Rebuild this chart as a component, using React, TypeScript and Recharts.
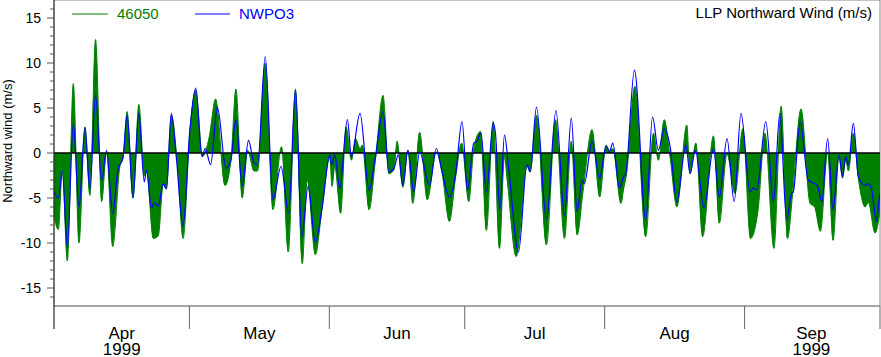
import { ComposedChart, Area, Line, XAxis, YAxis, ReferenceLine, ReferenceArea } from "recharts"

// days since 1 Apr 1999, values in m/s
const buoyDays = [
  0, 0.96, 1.85, 2.95, 4.28, 5.53, 6.86, 7.96, 9.2, 10.55, 11.65, 13.0, 14.6, 15.3, 16.2, 17.5, 18.8, 20.0, 20.5, 22.0,
  23.1, 24.2, 24.9, 26.0, 27.3, 28.6, 30.1,
  31.4, 32.9, 34.4, 35.8, 37.9, 39.2, 40.3, 41.7, 42.9, 44.3, 45.1, 46.8, 48.5, 50.4, 51.9, 53.5, 55.0, 56.1, 57.9, 59.4,
  61.1, 61.6, 62.2, 63.5, 64.7, 65.9, 66.8, 67.8, 68.3, 69.8, 71.2, 72.9, 74.2, 75.3, 76.0, 77.3, 78.4, 79.5, 81.0, 82.7,
  84.7, 86.0, 87.6, 89.0, 90.3, 91.9,
  93.0, 94.5, 95.8, 97.3, 98.7, 99.8, 100.4, 102.4, 104.8, 105.5, 106.9, 109.1, 111.1, 113.1, 114.6, 115.9, 117.2, 119.2,
  120.9, 122.3, 123.1, 123.8, 125.6, 126.2, 126.8, 128.7, 131.1, 132.8, 133.9, 135.2, 136.5, 138.0, 140.2, 140.9, 142.2,
  143.7, 146.1, 147.4, 149.1, 150.9, 152.6, 154.3, 156.0, 157.5, 159.5, 161.1, 162.5, 163.6, 165.5, 167.5, 168.5, 169.8,
  171.4, 172.6, 173.9, 174.7, 175.4, 176.0, 177.1, 178.2, 179.7, 180.4, 181.9, 183,
]
const buoyWind = [
  -7, -8.5, -1.9, -12, 7.7, -10, 2.9, -4.7, 12.6, -5.4, 0.1, -10.4, -1.5, -0.5, 4.6, -5, 5.4, -2.5, -2, -9.5,
  -9.2, -3.5, -4, 4.2, -1, -9.5, 2.5,
  7, -0.4, 1.8, 6, -3.6, -0.8, 7.1, -5, 0.3, -2, -2, 10, -6.3, 0.7, -11, 7, -12.3, -3, -11.3, -6.1,
  -0.5, -3.7, -1.5, -6.7, 2.9, -0.8, 1.6, 0.5, 0.9, -6.3, -0.8, 6.4, -2.3, -1.9, 1.3, -3.8, 0.3, -5.6, 2.3, -5.2,
  0.1, -2.3, -7.6, -2.6, 1.1, -5.4,
  0.5, 2.4, -8.6, 3.5, -10.6, -0.4, -3, -11.5, -1.5, -2.1, 4.2, -10.2, 3.7, -9.5, 1.3, -9.1, -4.3, 2.6,
  -4.9, 0.9, 0.2, 0.5, -5.6, -4, -2.5, 7.4, -9.3, 2.2, -0.8, 3.7, -0.5, -6, 3.1, -2.3, 1.1,
  -9.3, 1.9, -7.8, -0.1, -4.5, 2.7, -9.5, -6.3, 2.2, -10.6, 5.2, -9.5, -4.8, 4.9, -5.6, -6, -8.7,
  0.1, -9.7, -0.4, -2.8, -0.8, -2, 2.2, -2.8, -6, -5.5, -8.9, -6.5,
]

const stationDays = [
  0, 0.96, 1.85, 2.95, 4.28, 5.53, 6.86, 7.96, 9.2, 10.55, 11.65, 13.0, 14.2, 15.3, 16.2, 17.5, 18.8, 20.0, 20.5, 21.6,
  22.3, 23.1, 24.2, 24.9, 26.0, 27.1, 28.6, 30.1,
  31.4, 32.8, 33.5, 34.7, 36.2, 38.1, 39.2, 40.3, 41.7, 43.1, 44.3, 45.1, 46.8, 48.5, 50.3, 52.0, 53.5, 54.9, 56.3, 57.9,
  59.4, 61.1, 61.5, 62.2, 63.3, 65.0, 65.9, 67.8, 69.8, 71.1, 72.9, 74.2, 75.3, 76.3, 77.3, 78.4, 79.7, 81.0, 83.2, 84.7,
  86.0, 87.6, 89.0, 90.4, 91.6,
  93.0, 93.7, 94.6, 95.8, 97.3, 97.8, 98.8, 99.8, 100.7, 102.9, 104.8, 105.5, 106.9, 109.1, 111.2, 113.1, 114.6, 115.9,
  117.0, 117.5, 119.2, 120.9, 122.3, 123.1, 123.8, 125.3, 126.2, 126.6, 128.6, 131.1, 132.6, 133.9, 135.2, 136.5, 138.0,
  140.0, 140.9, 142.1, 144.0, 146.1, 147.4, 149.1, 150.7, 152.2, 154.2, 154.9, 155.7, 157.7, 159.4, 160.8, 162.3, 163.4,
  163.8, 165.3, 167.1, 169.1, 170.1, 171.4, 172.6, 173.9, 174.7, 175.4, 176.0, 177.1, 178.2, 179.7, 180.4, 181.2, 182.2,
  182.8, 183,
]
const stationWind = [
  -4.3, -5, -2, -10.5, 3.3, -6, 2.8, -4, 6.4, -3, 0.3, -6.7, -1.8, -0.5, 4.2, -5, 4.4, -3.2, -1.9, -6.1,
  -5.5, -5.9, -3.4, -4, 4.4, -0.5, -8.1, 2.5,
  7.2, -0.4, 0.5, -1.3, 5.1, -1.7, -0.8, 3.7, -3.7, 1.4, -1.1, -1.3, 10.7, -5.2, -1.5, -6.7, 7.1, -9.3, -3.7, -9.9,
  -6.1, -0.2, -1.3, -0.2, -3.9, 3.7, -0.4, 4.4, -4.1, -0.8, 4.6, -2.1, -1.7, -0.2, -3.6, 0.3, -4.3, 0.1, -3.6, 0.5,
  -2.1, -4.9, -2.3, 3.5, -4.1,
  1.1, 1.3, 2.2, -4.3, 3.3, 2.2, -6.3, 2, -1.5, -11, -1.3, -2.1, 5.1, -7.4, 4.7, -6.9, 3.9, -6.5,
  -3, -3.4, 1.3, -2.8, 0.7, 0.2, 1.1, -3.9, -2.6, -2.5, 9.2, -7.4, 4, 0.3, 2.7, 0.7, -5.4,
  0.9, -2.3, 0.3, -6.1, 0.5, -4.9, 1.6, -5.4, 4.4, -4.3, -3.9, -4.1, 3.5, -5.4, 4.4, -7.4, -4.5,
  -4.3, 3.5, -3, -3.6, -5.4, 1.6, -6.3, -0.2, -2.6, -0.4, -1.3, 3.3, -2.6, -3.6, -3.4, -4.2, -7.6,
  -5.2, -4.5,
]

const seriesNames = ["46050", "NWPO3"]
const monthStarts = [0, 30, 61, 91, 122, 153, 183]
const monthMids = [15, 45.5, 76, 106.5, 137.5, 167.8]
const monthNames = ["Apr", "May", "Jun", "Jul", "Aug", "Sep"]
const yearLabels = ["1999", "", "", "", "", "1999"]
const yTicks = [-16, -15, -14, -13, -12, -11, -10, -9, -8, -7, -6, -5, -4, -3, -2, -1, 0, 1, 2, 3, 4, 5, 6, 7, 8, 9, 10, 11, 12, 13, 14, 15, 16]

const GREEN = "#008000"
const BLUE = "#0000ff"
const FONT = "'Liberation Sans', Arial, sans-serif"

const buoyData = buoyDays.map((t, i) => ({ t, v: buoyWind[i] }))
const stationData = stationDays.map((t, i) => ({ t, v: stationWind[i] }))
const xTicks = [...monthStarts, ...monthMids].sort((a, b) => a - b)

function YTick(props: any) {
  const { x, y, payload } = props
  const major = payload.value % 5 === 0
  return (
    <g>
      <line x1={x - (major ? 7 : 4)} x2={x} y1={y} y2={y} stroke="#555" />
      {major && (
        <text x={x - 13} y={y} dy={5} textAnchor="end" fontSize={14} fontFamily={FONT} fill="#000">
          {payload.value}
        </text>
      )}
    </g>
  )
}

function XTick(props: any) {
  const { x, y, payload } = props
  const i = monthStarts.indexOf(payload.value)
  if (i >= 0) {
    return <line x1={x} x2={x} y1={y} y2={y + 23} stroke={i === 0 ? "#000" : "#666"} />
  }
  const j = monthMids.indexOf(payload.value)
  return (
    <text x={x} y={y} textAnchor="middle" fontSize={17} fontFamily={FONT} fill="#000">
      <tspan x={x} dy={33}>{monthNames[j]}</tspan>
      {yearLabels[j] && <tspan x={x} dy={16}>{yearLabels[j]}</tspan>}
    </text>
  )
}

export default function App() {
  return (
    <div style={{ position: "absolute", left: 0, top: 0, width: 881, height: 357, background: "#fff" }}>
      <ComposedChart width={881} height={357} margin={{ top: 0, right: 1, bottom: 0, left: 0 }}>
        <XAxis
          dataKey="t"
          type="number"
          domain={[0, 183]}
          allowDataOverflow
          ticks={xTicks}
          interval={0}
          tick={<XTick />}
          tickLine={false}
          tickSize={0}
          tickMargin={0}
          height={51}
          axisLine={{ stroke: "#888" }}
        />
        <YAxis
          type="number"
          domain={[-17, 17]}
          allowDataOverflow
          ticks={yTicks}
          interval={0}
          tick={<YTick />}
          tickLine={false}
          tickSize={0}
          tickMargin={0}
          width={54}
          axisLine={{ stroke: "#222" }}
        />
        <ReferenceArea x1={0} x2={183} y1={-17} y2={17} fill="none" stroke="#888" />
        <Area
          data={buoyData}
          dataKey="v"
          type="monotone"
          baseValue={0}
          stroke={GREEN}
          strokeWidth={1}
          fill={GREEN}
          fillOpacity={1}
          dot={false}
          activeDot={false}
          isAnimationActive={false}
        />
        <ReferenceLine y={0} stroke="#000" strokeWidth={1.5} />
        <Line
          data={stationData}
          dataKey="v"
          type="monotone"
          stroke={BLUE}
          strokeWidth={1.2}
          dot={false}
          activeDot={false}
          isAnimationActive={false}
        />
      </ComposedChart>
      <svg width={881} height={357} style={{ position: "absolute", left: 0, top: 0, pointerEvents: "none" }}>
        <line x1={72} x2={108} y1={14} y2={14} stroke={GREEN} />
        <text x={117} y={19} fontSize={15} fontFamily={FONT} fill={GREEN}>{seriesNames[0]}</text>
        <line x1={195} x2={230} y1={14} y2={14} stroke={BLUE} />
        <text x={239} y={19} fontSize={15} fontFamily={FONT} fill={BLUE}>{seriesNames[1]}</text>
        <text x={872} y={18} textAnchor="end" fontSize={15} fontFamily={FONT} fill="#000">
          LLP Northward Wind (m/s)
        </text>
        <text transform="translate(12,141) rotate(-90)" textAnchor="middle" fontSize={13} fontFamily={FONT} fill="#000">
          Northward wind (m/s)
        </text>
      </svg>
    </div>
  )
}
